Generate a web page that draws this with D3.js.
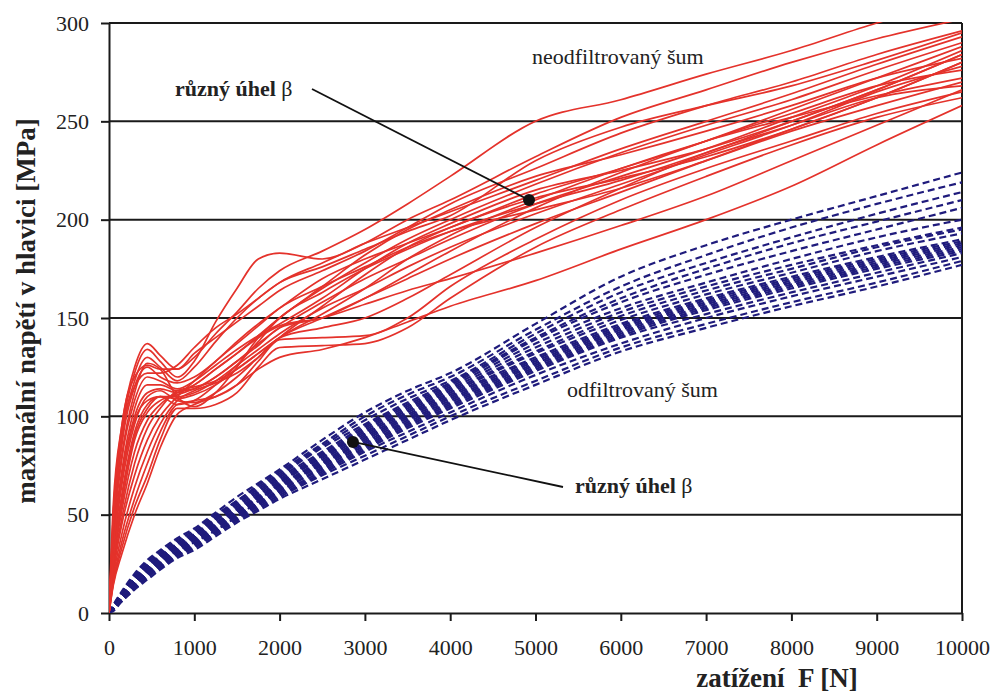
<!DOCTYPE html>
<html><head><meta charset="utf-8">
<script src="https://cdn.jsdelivr.net/npm/d3@7"></script>
<style>body{margin:0;background:#fff}svg{display:block}svg text{font-family:"Liberation Serif","Times New Roman",Tinos,"DejaVu Serif",serif}</style>
</head><body><svg id="c" width="993" height="694"></svg>
<script>
// Load values F [N]
const forces = [0, 50, 150, 300, 450, 600, 800, 1000, 1250, 1500, 1750, 2000, 2500, 3000, 3500, 4000, 5000, 6000, 7000, 8000, 9000, 10000];

// Unfiltered noise curves (red), max stress [MPa]
const redCurves = [
  [0, 55, 95, 125, 137, 131, 124, 130, 142, 153, 165, 174, 184, 195, 208, 222, 250, 261, 274, 286, 300, 312],
  [0, 50, 92, 122, 134, 128, 120, 128, 148, 165, 180, 183, 180, 188, 196, 204, 220, 236, 250, 264, 279, 293],
  [0, 45, 88, 118, 130, 125, 118, 125, 138, 150, 160, 168, 176, 185, 194, 202, 230, 247, 258, 268, 281, 295],
  [0, 40, 80, 112, 127, 124, 110, 105, 112, 125, 140, 150, 165, 178, 190, 200, 218, 234, 248, 261, 276, 290],
  [0, 42, 85, 115, 125, 120, 117, 120, 128, 138, 147, 155, 170, 180, 188, 196, 213, 226, 240, 256, 272, 288],
  [0, 38, 78, 108, 120, 118, 114, 118, 126, 134, 141, 147, 160, 175, 188, 198, 215, 225, 236, 250, 266, 284],
  [0, 35, 72, 104, 116, 116, 113, 114, 120, 128, 137, 145, 158, 170, 180, 190, 208, 222, 236, 252, 268, 286],
  [0, 33, 70, 100, 112, 114, 112, 116, 124, 132, 141, 150, 166, 182, 195, 205, 222, 233, 245, 258, 272, 282],
  [0, 30, 65, 96, 110, 113, 108, 107, 112, 120, 130, 140, 156, 172, 186, 196, 211, 221, 232, 246, 262, 280],
  [0, 28, 60, 92, 106, 110, 110, 112, 118, 126, 134, 142, 155, 165, 176, 186, 203, 218, 233, 248, 265, 278],
  [0, 26, 55, 88, 102, 108, 111, 114, 120, 128, 136, 145, 150, 160, 172, 184, 206, 224, 240, 254, 268, 276],
  [0, 24, 52, 82, 98, 106, 112, 116, 124, 132, 140, 146, 150, 157, 164, 170, 183, 197, 212, 230, 248, 266],
  [0, 22, 48, 76, 94, 104, 113, 115, 118, 124, 132, 140, 152, 165, 180, 192, 210, 226, 240, 252, 263, 272],
  [0, 20, 45, 70, 88, 100, 110, 118, 128, 137, 146, 155, 166, 176, 186, 194, 205, 216, 230, 245, 258, 270],
  [0, 18, 40, 64, 82, 96, 108, 113, 117, 122, 130, 140, 145, 150, 160, 172, 196, 216, 234, 248, 262, 268],
  [0, 16, 36, 58, 76, 92, 106, 108, 110, 116, 128, 139, 140, 141, 150, 166, 190, 210, 226, 240, 254, 265],
  [0, 15, 33, 54, 70, 88, 104, 104, 106, 112, 125, 135, 136, 137, 145, 160, 186, 205, 222, 238, 252, 262],
  [0, 14, 30, 50, 66, 84, 101, 106, 110, 116, 124, 130, 134, 140, 148, 156, 169, 185, 200, 217, 238, 258],
  [0, 50, 95, 120, 126, 124, 124, 132, 140, 148, 156, 164, 174, 184, 196, 208, 226, 244, 258, 270, 284, 296],
  [0, 45, 90, 115, 122, 122, 126, 135, 145, 152, 160, 168, 178, 188, 200, 210, 232, 252, 266, 280, 292, 302],
  [0, 32, 68, 98, 108, 110, 106, 108, 116, 126, 138, 150, 163, 175, 185, 194, 208, 220, 234, 250, 266, 284],
  [0, 26, 58, 90, 104, 110, 109, 111, 116, 124, 132, 140, 150, 160, 170, 180, 198, 214, 230, 246, 262, 280]
];

// Filtered noise curves (blue dashed), max stress [MPa]
const blueCurves = [
  [0, 4, 11, 20, 27, 32, 38, 43, 51, 59, 66, 73, 88, 102, 113, 122, 147, 171, 187, 200, 212, 224],
  [0, 4, 10, 19, 26, 31, 37, 42, 50, 57, 65, 72, 86, 100, 111, 120, 144, 166, 182, 196, 208, 219],
  [0, 3, 10, 18, 25, 30, 36, 41, 49, 57, 64, 71, 85, 98, 109, 118, 142, 163, 178, 191, 203, 214],
  [0, 3, 9, 18, 24, 29, 35, 40, 48, 56, 63, 70, 84, 96, 107, 117, 140, 160, 175, 188, 199, 210],
  [0, 3, 9, 17, 24, 29, 35, 40, 48, 55, 62, 69, 82, 95, 106, 116, 139, 158, 172, 184, 195, 206],
  [0, 3, 9, 17, 23, 28, 34, 39, 47, 54, 61, 68, 81, 94, 105, 115, 137, 155, 168, 180, 191, 200],
  [0, 3, 9, 17, 23, 28, 34, 39, 46, 53, 60, 67, 80, 92, 103, 113, 133, 151, 164, 175, 186, 195],
  [0, 3, 8, 16, 22, 27, 33, 38, 45, 52, 59, 66, 79, 91, 102, 112, 132, 149, 162, 173, 184, 193],
  [0, 2, 8, 16, 22, 27, 33, 38, 45, 52, 59, 65, 78, 90, 101, 111, 130, 147, 160, 171, 181, 190],
  [0, 2, 8, 15, 21, 26, 32, 37, 44, 51, 58, 65, 77, 89, 100, 110, 129, 146, 159, 170, 180, 189],
  [0, 2, 8, 15, 21, 26, 32, 37, 44, 51, 58, 64, 76, 88, 99, 109, 128, 145, 158, 169, 179, 188],
  [0, 2, 7, 15, 21, 26, 31, 36, 43, 50, 57, 64, 76, 87, 98, 108, 127, 144, 157, 168, 178, 187],
  [0, 2, 7, 14, 20, 25, 31, 36, 43, 50, 56, 63, 75, 86, 97, 107, 126, 143, 156, 167, 177, 186],
  [0, 2, 7, 14, 20, 25, 30, 35, 42, 49, 56, 62, 74, 85, 96, 106, 125, 142, 155, 166, 176, 185],
  [0, 2, 7, 14, 20, 24, 30, 35, 42, 49, 55, 62, 73, 84, 95, 105, 124, 141, 154, 165, 175, 184],
  [0, 2, 7, 13, 19, 24, 30, 34, 41, 48, 55, 61, 72, 83, 94, 104, 123, 140, 152, 163, 173, 183],
  [0, 2, 6, 13, 19, 23, 29, 34, 41, 48, 54, 60, 71, 82, 92, 102, 121, 137, 150, 161, 171, 181],
  [0, 2, 6, 12, 18, 23, 29, 33, 40, 47, 53, 59, 70, 80, 90, 100, 118, 135, 147, 158, 168, 179],
  [0, 1, 6, 12, 17, 22, 28, 32, 39, 46, 52, 58, 68, 78, 88, 98, 116, 133, 145, 156, 166, 177],
  [0, 2, 8, 16, 22, 27, 32, 36, 42, 49, 57, 66, 80, 93, 104, 114, 135, 153, 166, 177, 187, 196]
];

const xTicks = [0, 1000, 2000, 3000, 4000, 5000, 6000, 7000, 8000, 9000, 10000];
const yTicks = [0, 50, 100, 150, 200, 250, 300];

const xTitle = "zatížení  F [N]";
const yTitle = "maximální napětí v hlavici [MPa]";
const labelBold = "různý úhel ";
const labelBeta = "β";
const labelRaw = "neodfiltrovaný šum";
const labelFiltered = "odfiltrovaný šum";
// annotation anchor points [F, MPa]
const redPoint = [4924, 210];
const bluePoint = [2860, 87];

const svg = d3.select("#c");
const L = 109, R = 962, T = 23, B = 613;
const x = d3.scaleLinear().domain([0, 10000]).range([L, R]);
const y = d3.scaleLinear().domain([0, 300]).range([B, T]);
const serif = '"Liberation Serif", "Times New Roman", Tinos, "DejaVu Serif", serif';

svg.append("defs").append("clipPath").attr("id", "clip")
  .append("rect").attr("x", L).attr("y", T - 1).attr("width", R - L).attr("height", B - T + 1);

// gridlines
svg.append("g").selectAll("line").data(yTicks.filter(d => d > 0)).join("line")
  .attr("x1", L).attr("x2", R).attr("y1", d => y(d)).attr("y2", d => y(d))
  .attr("stroke", "#1a1a1a").attr("stroke-width", 2);

// axes
const ax = svg.append("g").attr("transform", `translate(0,${B})`)
  .call(d3.axisBottom(x).tickValues(xTicks).tickSizeInner(8).tickSizeOuter(0).tickPadding(18).tickFormat(d3.format("d")));
const ay = svg.append("g").attr("transform", `translate(${L},0)`)
  .call(d3.axisLeft(y).tickValues(yTicks).tickSizeInner(8).tickSizeOuter(0).tickPadding(12).tickFormat(d3.format("d")));
[ax, ay].forEach(g => {
  g.attr("font-family", null);
  g.selectAll("path.domain").attr("stroke", "#1a1a1a").attr("stroke-width", 2);
  g.selectAll(".tick line").attr("stroke", "#1a1a1a").attr("stroke-width", 2);
  g.selectAll("text").style("font-family", serif).attr("font-size", 22).attr("fill", "#222");
});
// right border
svg.append("line").attr("x1", R).attr("x2", R).attr("y1", T).attr("y2", B)
  .attr("stroke", "#1a1a1a").attr("stroke-width", 2);

const line = d3.line().x((d, i) => x(forces[i])).y(d => y(d)).curve(d3.curveMonotoneX);
const plot = svg.append("g").attr("clip-path", "url(#clip)");

plot.append("g").selectAll("path").data(blueCurves).join("path")
  .attr("d", line).attr("fill", "none").attr("stroke", "#1f1b7c")
  .attr("stroke-width", 2.2).attr("stroke-dasharray", "7,4");

plot.append("g").selectAll("path").data(redCurves).join("path")
  .attr("d", line).attr("fill", "none").attr("stroke", "#e4322b")
  .attr("stroke-width", 1.7);

// titles
svg.append("text").attr("x", 777).attr("y", 687).attr("text-anchor", "middle")
  .style("font-family", serif).attr("font-weight", "bold").attr("font-size", 27).attr("fill", "#222")
  .style("white-space", "pre").text(xTitle);
svg.append("text").attr("transform", "translate(35,311) rotate(-90)").attr("text-anchor", "middle")
  .style("font-family", serif).attr("font-weight", "bold").attr("font-size", 27).attr("fill", "#222")
  .text(yTitle);

// annotations
function betaLabel(px, py) {
  const t = svg.append("text").attr("x", px).attr("y", py)
    .style("font-family", serif).attr("font-size", 22).attr("fill", "#222").style("white-space", "pre");
  t.append("tspan").attr("font-weight", "bold").text(labelBold);
  t.append("tspan").text(labelBeta);
}
betaLabel(175, 96);
betaLabel(575, 493);

svg.append("text").attr("x", 532).attr("y", 64).style("font-family", serif).attr("font-size", 22)
  .attr("fill", "#222").text(labelRaw);
svg.append("text").attr("x", 567).attr("y", 397).style("font-family", serif).attr("font-size", 22)
  .attr("fill", "#222").text(labelFiltered);

svg.append("line").attr("x1", 312).attr("y1", 89).attr("x2", x(redPoint[0])).attr("y2", y(redPoint[1]))
  .attr("stroke", "#111").attr("stroke-width", 1.8);
svg.append("circle").attr("cx", x(redPoint[0])).attr("cy", y(redPoint[1])).attr("r", 6).attr("fill", "#111");
svg.append("line").attr("x1", x(bluePoint[0])).attr("y1", y(bluePoint[1])).attr("x2", 563).attr("y2", 487)
  .attr("stroke", "#111").attr("stroke-width", 1.8);
svg.append("circle").attr("cx", x(bluePoint[0])).attr("cy", y(bluePoint[1])).attr("r", 6).attr("fill", "#111");
</script></body></html>
